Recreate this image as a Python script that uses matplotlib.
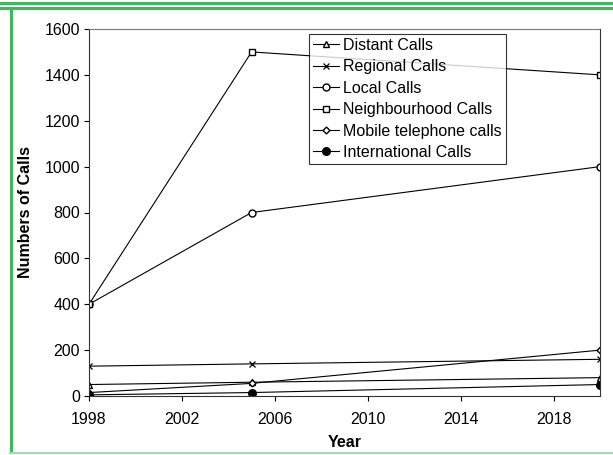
import matplotlib
matplotlib.use("Agg")
import matplotlib.pyplot as plt
from matplotlib.lines import Line2D

plt.rcParams['font.family'] = ['Liberation Sans', 'DejaVu Sans']

years = [1998, 2005, 2020]
distant = [50, 60, 80]
regional = [130, 140, 160]
local = [400, 800, 1000]
neighbourhood = [400, 1500, 1400]
mobile = [15, 55, 200]
international = [5, 15, 50]

labels = ["Distant Calls", "Regional Calls", "Local Calls",
          "Neighbourhood Calls", "Mobile telephone calls", "International Calls"]
x_ticks = [1998, 2002, 2006, 2010, 2014, 2018]
y_ticks = [0, 200, 400, 600, 800, 1000, 1200, 1400, 1600]

W, H = 613, 455
fig = plt.figure(figsize=(W / 100, H / 100), dpi=100)

# green frame
green = "#3cb95a"
fig.add_artist(Line2D([0, 1], [1 - 2.5 / H, 1 - 2.5 / H], color=green, lw=2.2, transform=fig.transFigure))
fig.add_artist(Line2D([0, 1], [1 - 8 / H, 1 - 8 / H], color=green, lw=2.2, transform=fig.transFigure))
fig.add_artist(Line2D([10.5 / W, 10.5 / W], [3 / H, 1 - 8 / H], color=green, lw=2.2, transform=fig.transFigure))
fig.add_artist(Line2D([10 / W, 1], [2.5 / H, 2.5 / H], color="#9fe0b0", lw=1.6, transform=fig.transFigure))

ax = fig.add_axes([89 / W, (H - 396) / H, (600 - 89) / W, (396 - 29) / H])

series = [
    (distant, dict(marker='^', mfc='white', mec='black', ms=5)),
    (regional, dict(marker='x', mec='black', ms=5, mew=0.9)),
    (local, dict(marker='o', mfc='white', mec='black', ms=5)),
    (neighbourhood, dict(marker='s', mfc='white', mec='black', ms=5)),
    (mobile, dict(marker='D', mfc='white', mec='black', ms=3.5)),
    (international, dict(marker='o', mfc='black', mec='black', ms=5.5)),
]
for (vals, style), lab in zip(series, labels):
    ax.plot(years, vals, color='black', lw=0.8, label=lab, **style)

ax.set_xlim(1998, 2020)
ax.set_ylim(0, 1600)
ax.set_xticks(x_ticks)
ax.set_yticks(y_ticks)
ax.tick_params(axis='both', direction='out', length=3.5, width=0.8, labelsize=11.5, colors='black')
ax.tick_params(axis='x', pad=8)
ax.tick_params(axis='y', pad=3)
for s in ax.spines.values():
    s.set_linewidth(0.8)
    s.set_color('#333333')
ax.spines['top'].set_color('#777777')
ax.spines['top'].set_linestyle((0, (3, 1)))

ax.set_xlabel("Year", fontsize=11.5, fontweight='bold', labelpad=6)
ax.set_ylabel("Numbers of Calls", fontsize=11.5, fontweight='bold', labelpad=8)

leg = ax.legend(loc='upper left', bbox_to_anchor=((309 - 89) / (600 - 89), 1 - (34 - 29) / (396 - 29)),
                fontsize=11.5, frameon=True, fancybox=False, handlelength=1.6, handletextpad=0.3,
                borderpad=0.25, labelspacing=0.4, borderaxespad=0, numpoints=1)
leg.get_frame().set_edgecolor('black')
leg.get_frame().set_linewidth(0.8)

fig.savefig("out.png", dpi=100)
